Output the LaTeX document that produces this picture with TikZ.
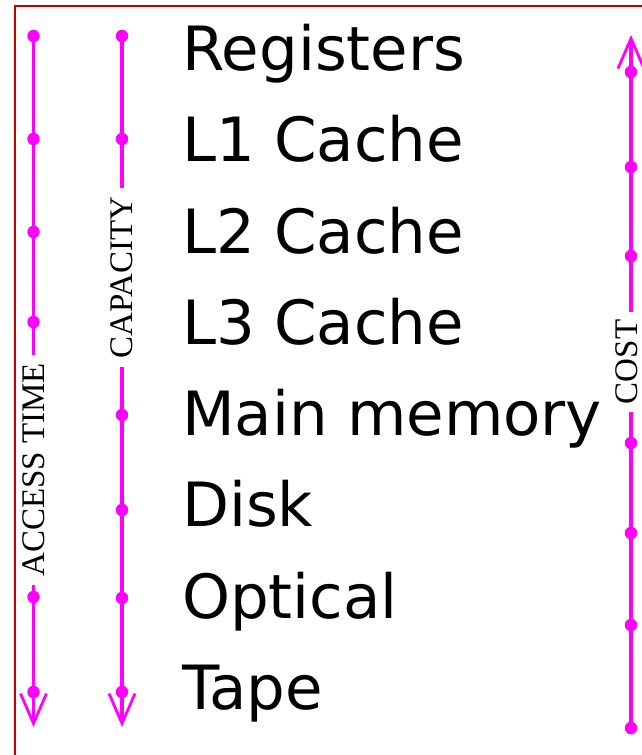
\documentclass[tikz,border=0pt]{standalone}
\usepackage{fontspec}
\setmainfont{DejaVu Sans}
\newfontfamily\labelfont{Liberation Serif}
\usetikzlibrary{arrows.meta}
\definecolor{mag}{RGB}{255,0,255}
\definecolor{framered}{RGB}{200,0,0}
\begin{document}
\begin{tikzpicture}[x=1pt,y=-1pt,
  dot/.style={circle,fill=mag,inner sep=0pt,minimum size=12.5pt},
  axis/.style={draw=mag,line width=3.8pt},
  lbl/.style={rotate=90,font=\labelfont\fontsize{33}{33}\selectfont,inner ysep=0pt,inner xsep=8pt},
  item/.style={anchor=base west,inner sep=0pt,font=\fontsize{61}{61}\selectfont},
  barbtip/.style={-{Straight Barb[length=30pt,width=26pt,line width=2.8pt]}}
]
\clip (0,0) rectangle (642,755);
\draw[framered,line width=2.2pt] (15,6) rectangle (700,800);

% texts
\node[item] (t1) at (182,70) {Registers};
\node[item] (t2) at (182,161) {L1 Cache};
\node[item] (t3) at (182,253) {L2 Cache};
\node[item] (t4) at (182,344) {L3 Cache};
\node[item] (t5) at (182,435) {Main memory};
\node[item] (t6) at (182,526) {Disk};
\node[item] (t7) at (182,618) {Optical};
\node[item] (t8) at (182,709) {Tape};

% access time axis
\node[lbl] (alab) at (33.5,470) {ACCESS TIME};
\coordinate (atip) at (33.5,727);
\coordinate (a1) at (33.5,36);
\coordinate (a2) at (33.5,139);
\coordinate (a3) at (33.5,232);
\coordinate (a4) at (33.5,322);
\coordinate (a5) at (33.5,597);
\coordinate (a6) at (33.5,692);
\draw[axis] (a1) -- (alab);
\draw[axis,barbtip] (alab) -- (atip);
\foreach \p in {a1,a2,a3,a4,a5,a6} \node[dot] at (\p) {};

% capacity axis
\node[lbl] (blab) at (122,277.5) {CAPACITY};
\coordinate (btip) at (122,727);
\coordinate (b1) at (122,36);
\coordinate (b2) at (122,139);
\coordinate (b3) at (122,415);
\coordinate (b4) at (122,510);
\coordinate (b5) at (122,598);
\coordinate (b6) at (122,692);
\draw[axis] (b1) -- (blab);
\draw[axis,barbtip] (blab) -- (btip);
\foreach \p in {b1,b2,b3,b4,b5,b6} \node[dot] at (\p) {};

% cost axis
\node[lbl] (clab) at (627,362) {COST};
\coordinate (ctip) at (631,35);
\coordinate (c1) at (631,72);
\coordinate (c2) at (631,167);
\coordinate (c3) at (631,256);
\coordinate (c4) at (631,443);
\coordinate (c5) at (631,533);
\coordinate (c6) at (631,625);
\coordinate (c7) at (631,728);
\draw[axis,barbtip] (c3 |- clab.east) -- (ctip);
\draw[axis] (c4 |- clab.west) -- (c7);
\foreach \p in {c1,c2,c3,c4,c5,c6,c7} \node[dot] at (\p) {};
\end{tikzpicture}
\end{document}
